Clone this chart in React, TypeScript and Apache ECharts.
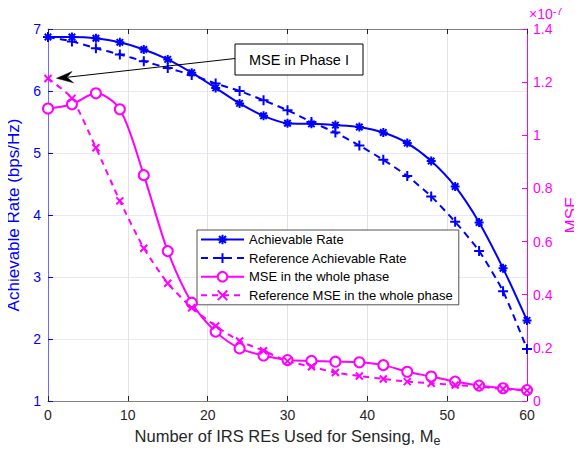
import React, { useEffect, useRef } from "react";
import * as echarts from "echarts";

const xValues = [0, 3, 6, 9, 12, 15, 18, 21, 24, 27, 30, 33, 36, 39, 42, 45, 48, 51, 54, 57, 60];
const achievableRate = [6.87, 6.87, 6.85, 6.785, 6.67, 6.51, 6.295, 6.05, 5.8, 5.6, 5.48, 5.47, 5.45, 5.42, 5.33, 5.16, 4.87, 4.46, 3.88, 3.14, 2.3];
const refAchievableRate = [6.87, 6.8, 6.69, 6.59, 6.48, 6.37, 6.26, 6.12, 6.0, 5.85, 5.69, 5.5, 5.33, 5.12, 4.89, 4.63, 4.3, 3.89, 3.42, 2.77, 1.84];
const mseWhole = [1.101, 1.117, 1.158, 1.098, 0.85, 0.564, 0.37, 0.261, 0.198, 0.171, 0.154, 0.151, 0.148, 0.146, 0.135, 0.11, 0.092, 0.073, 0.058, 0.048, 0.041];
const refMseWhole = [1.214, 1.139, 0.953, 0.753, 0.575, 0.443, 0.351, 0.282, 0.226, 0.189, 0.15, 0.129, 0.107, 0.094, 0.083, 0.073, 0.067, 0.06, 0.054, 0.045, 0.039];
const seriesNames = [
  "Achievable Rate",
  "Reference Achievable Rate",
  "MSE in the whole phase",
  "Reference MSE in the whole phase",
];

const BLUE = "#0000ff";
const MAGENTA = "#ff00ff";
const FONT = "'Liberation Sans', Arial, Helvetica, sans-serif";

const ASTERISK = "path://M0,-5L0,5M-5,0L5,0M-3.6,-3.6L3.6,3.6M-3.6,3.6L3.6,-3.6";
const PLUS = "path://M0,-5L0,5M-5,0L5,0";
const CROSS = "path://M-4,-4L4,4M-4,4L4,-4";

function pairs(vals: number[]) {
  return xValues.map((x, i) => [x, vals[i]]);
}

export default function App() {
  const ref = useRef<HTMLDivElement>(null);
  useEffect(() => {
    if (!ref.current) return;
    const chart = echarts.init(ref.current, null, { renderer: "svg" });
    const option: any = {
      animation: false,
      backgroundColor: "#ffffff",
      textStyle: { fontFamily: FONT },
      grid: { left: 48, right: 55, top: 29, bottom: 52, containLabel: false, outerBoundsMode: "none" },
      legend: {
        orient: "vertical",
        left: 197,
        top: 230,
        data: seriesNames,
        backgroundColor: "#ffffff",
        borderColor: "#262626",
        borderWidth: 0.8,
        borderRadius: 0,
        padding: [3, 6, 3, 3],
        itemWidth: 43,
        itemHeight: 12,
        itemGap: 5.6,
        textStyle: { fontSize: 13, color: "#000000", fontFamily: FONT },
      },
      xAxis: [
        {
          type: "value",
          min: 0,
          max: 60,
          interval: 10,
          position: "bottom",
          name: "Number of IRS REs Used for Sensing, M{sub|e}",
          nameLocation: "middle",
          nameGap: 24,
          nameTextStyle: {
            fontSize: 16.5,
            color: "#262626",
            fontFamily: FONT,
            rich: { sub: { fontSize: 12.5, color: "#262626", verticalAlign: "bottom", padding: [9, 0, 0, 0], fontFamily: FONT } },
          },
          axisLine: { show: true, onZero: false, lineStyle: { color: "#808080", width: 1 } },
          axisTick: { show: true, inside: true, length: 5, lineStyle: { color: "#262626" } },
          axisLabel: { fontSize: 14, color: "#262626", margin: 7, fontFamily: FONT },
          splitLine: { show: true, lineStyle: { color: "#e3e3e3", width: 1 } },
        },
        {
          type: "value",
          min: 0,
          max: 60,
          interval: 10,
          position: "top",
          axisLine: { show: true, onZero: false, lineStyle: { color: "#808080", width: 1 } },
          axisTick: { show: true, inside: true, length: 5, lineStyle: { color: "#262626" } },
          axisLabel: { show: false },
          splitLine: { show: false },
        },
      ],
      yAxis: [
        {
          type: "value",
          min: 1,
          max: 7,
          interval: 1,
          position: "left",
          name: "Achievable Rate (bps/Hz)",
          nameLocation: "middle",
          nameGap: 21,
          nameTextStyle: { fontSize: 17, color: BLUE, fontFamily: FONT },
          axisLine: { show: true, onZero: false, lineStyle: { color: "#6b6bff", width: 1 } },
          axisTick: { show: true, inside: true, length: 5, lineStyle: { color: BLUE } },
          axisLabel: { fontSize: 14, color: BLUE, margin: 7, fontFamily: FONT },
          splitLine: { show: true, lineStyle: { color: "#e8e8f8", width: 1 } },
        },
        {
          type: "value",
          min: 0,
          max: 1.4,
          interval: 0.2,
          position: "right",
          name: "MSE",
          nameLocation: "middle",
          nameGap: 28,
          nameTextStyle: { fontSize: 17, color: MAGENTA, fontFamily: FONT },
          axisLine: { show: true, onZero: false, lineStyle: { color: MAGENTA, width: 1 } },
          axisTick: { show: true, inside: true, length: 5, lineStyle: { color: MAGENTA } },
          axisLabel: {
            fontSize: 14,
            color: MAGENTA,
            margin: 6,
            fontFamily: FONT,
            formatter: (v: number) => String(Math.round(v * 10) / 10),
          },
          splitLine: { show: false },
        },
      ],
      series: [
        {
          name: seriesNames[0],
          type: "line",
          xAxisIndex: 0,
          yAxisIndex: 0,
          data: pairs(achievableRate),
          smooth: 0.3,
          symbol: ASTERISK,
          symbolSize: 9,
          showAllSymbol: true,
          lineStyle: { color: BLUE, width: 2, type: "solid" },
          itemStyle: { color: BLUE, borderColor: BLUE, borderWidth: 2 },
          z: 3,
        },
        {
          name: seriesNames[1],
          type: "line",
          xAxisIndex: 0,
          yAxisIndex: 0,
          data: pairs(refAchievableRate),
          smooth: 0.2,
          symbol: PLUS,
          symbolSize: 10,
          showAllSymbol: true,
          lineStyle: { color: BLUE, width: 2, type: [7, 5] },
          itemStyle: { color: BLUE, borderColor: BLUE, borderWidth: 2 },
          z: 3,
        },
        {
          name: seriesNames[2],
          type: "line",
          xAxisIndex: 0,
          yAxisIndex: 1,
          data: pairs(mseWhole),
          smooth: 0.3,
          symbol: "emptyCircle",
          symbolSize: 10,
          showAllSymbol: true,
          lineStyle: { color: MAGENTA, width: 2, type: "solid" },
          itemStyle: { color: MAGENTA, borderColor: MAGENTA, borderWidth: 1.5 },
          z: 4,
        },
        {
          name: seriesNames[3],
          type: "line",
          xAxisIndex: 0,
          yAxisIndex: 1,
          data: pairs(refMseWhole),
          smooth: 0.2,
          symbol: CROSS,
          symbolSize: 7,
          showAllSymbol: true,
          lineStyle: { color: MAGENTA, width: 2, type: [6, 5] },
          itemStyle: { color: MAGENTA, borderColor: MAGENTA, borderWidth: 2 },
          z: 4,
        },
      ],
      graphic: [
        {
          type: "text",
          left: 529,
          top: 5,
          style: {
            text: "×10{sup|-7}",
            fill: MAGENTA,
            font: `14px ${FONT}`,
            rich: { sup: { fontSize: 11, fill: MAGENTA, verticalAlign: "top", padding: [0, 0, 7, 0] } },
          },
          z: 10,
        },
        {
          type: "line",
          shape: { x1: 235, y1: 58.5, x2: 68, y2: 77.2 },
          style: { stroke: "#000000", lineWidth: 1 },
          z: 10,
        },
        {
          type: "polygon",
          shape: { points: [[56.5, 78.3], [72, 71.5], [67, 77.3], [73.5, 82.8]] },
          style: { fill: "#000000", stroke: "#000000", lineWidth: 0.5 },
          z: 10,
        },
        {
          type: "rect",
          shape: { x: 235, y: 44, width: 128, height: 31 },
          style: { fill: "#ffffff", stroke: "#000000", lineWidth: 1 },
          z: 10,
        },
        {
          type: "text",
          x: 299,
          y: 59.5,
          style: {
            text: "MSE in Phase I",
            fill: "#000000",
            font: `14.5px ${FONT}`,
            align: "center",
            verticalAlign: "middle",
          },
          z: 11,
        },
      ],
    };
    chart.setOption(option);
    return () => chart.dispose();
  }, []);
  return <div ref={ref} style={{ width: 582, height: 453, margin: -8 }} />;
}
